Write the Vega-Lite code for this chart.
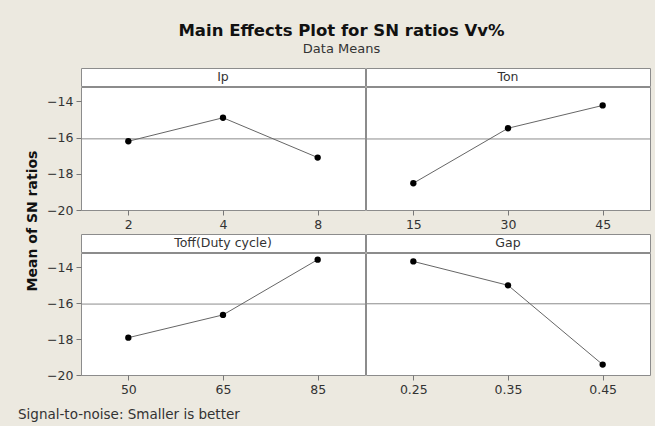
{
  "$schema": "https://vega.github.io/schema/vega-lite/v6.json",
  "background": "#ece9e0",
  "padding": {"left": 18, "top": 23, "right": 4, "bottom": 4},
  "datasets": {
    "effects": [
      {"factor": "Ip", "level": "2", "value": -16.2},
      {"factor": "Ip", "level": "4", "value": -14.9},
      {"factor": "Ip", "level": "8", "value": -17.1},
      {"factor": "Ton", "level": "15", "value": -18.52},
      {"factor": "Ton", "level": "30", "value": -15.48},
      {"factor": "Ton", "level": "45", "value": -14.22},
      {"factor": "Toff(Duty cycle)", "level": "50", "value": -17.92},
      {"factor": "Toff(Duty cycle)", "level": "65", "value": -16.65},
      {"factor": "Toff(Duty cycle)", "level": "85", "value": -13.57},
      {"factor": "Gap", "level": "0.25", "value": -13.67},
      {"factor": "Gap", "level": "0.35", "value": -15.0},
      {"factor": "Gap", "level": "0.45", "value": -19.42}
    ],
    "headers": [
      {"factor": "Ip"},
      {"factor": "Ton"},
      {"factor": "Toff(Duty cycle)"},
      {"factor": "Gap"}
    ]
  },
  "title": {
    "text": "Main Effects Plot for SN ratios Vv%",
    "subtitle": "Data Means",
    "anchor": "middle",
    "dx": 7,
    "fontSize": 16.5,
    "fontWeight": "bold",
    "font": "DejaVu Sans",
    "color": "#111",
    "subtitleFont": "DejaVu Sans",
    "subtitleFontSize": 13,
    "subtitleColor": "#333",
    "subtitlePadding": 3,
    "offset": 12
  },
  "vconcat": [
    {
      "title": {"text": "Signal-to-noise: Smaller is better", "orient": "bottom", "anchor": "start", "font": "DejaVu Sans", "fontSize": 13.5, "fontWeight": "normal", "color": "#333", "offset": 12},
      "spacing": -2,
      "hconcat": [
        {
          "width": 30,
          "height": 306,
          "view": {"stroke": null, "fill": null},
          "data": {"values": [{"label": "Mean of SN ratios"}]},
          "mark": {"type": "text", "angle": 270, "fontSize": 14, "fontWeight": "bold", "font": "DejaVu Sans", "color": "#111"},
          "encoding": {"text": {"field": "label"}}
        },
        {
          "spacing": 2,
          "vconcat": [
            {
              "spacing": -2,
              "hconcat": [
                {
                  "spacing": -2,
                  "vconcat": [
                    {
                      "width": 284, "height": 18,
                      "view": {"fill": "white", "stroke": "#8c8c8c"},
                      "data": {"name": "headers"},
                      "transform": [{"filter": {"field": "factor", "equal": "Ip"}}],
                      "mark": {"type": "text", "fontSize": 12.5, "color": "#333"},
                      "encoding": {"text": {"field": "factor"}}
                    },
                    {
                      "width": 284, "height": 123,
                      "view": {"fill": "white", "stroke": "#8c8c8c"},
                      "data": {"name": "effects"},
                      "transform": [{"filter": {"field": "factor", "equal": "Ip"}}],
                      "layer": [
                        {"mark": {"type": "rule", "color": "#8c8c8c"},
                         "encoding": {"y": {"aggregate": "mean", "field": "value", "type": "quantitative", "scale": {"domain": [-20, -13.2], "nice": false, "zero": false}, "axis": {"title": null, "values": [-20, -18, -16, -14]}}}},
                        {"mark": {"type": "line", "color": "#666", "strokeWidth": 1},
                         "encoding": {"x": {"field": "level", "type": "ordinal", "sort": null, "scale": {"type": "point", "padding": 0.5}, "axis": {"title": null, "labelAngle": 0}},
                                      "y": {"field": "value", "type": "quantitative"}}},
                        {"mark": {"type": "point", "filled": true, "color": "#000", "size": 40, "opacity": 1},
                         "encoding": {"x": {"field": "level", "type": "ordinal", "sort": null},
                                      "y": {"field": "value", "type": "quantitative"}}}
                      ]
                    }
                  ]
                },
                {
                  "spacing": -2,
                  "vconcat": [
                    {
                      "width": 284, "height": 18,
                      "view": {"fill": "white", "stroke": "#8c8c8c"},
                      "data": {"name": "headers"},
                      "transform": [{"filter": {"field": "factor", "equal": "Ton"}}],
                      "mark": {"type": "text", "fontSize": 12.5, "color": "#333"},
                      "encoding": {"text": {"field": "factor"}}
                    },
                    {
                      "width": 284, "height": 123,
                      "view": {"fill": "white", "stroke": "#8c8c8c"},
                      "data": {"name": "effects"},
                      "transform": [{"filter": {"field": "factor", "equal": "Ton"}}],
                      "layer": [
                        {"mark": {"type": "rule", "color": "#8c8c8c"},
                         "encoding": {"y": {"aggregate": "mean", "field": "value", "type": "quantitative", "scale": {"domain": [-20, -13.2], "nice": false, "zero": false}, "axis": null}}},
                        {"mark": {"type": "line", "color": "#666", "strokeWidth": 1},
                         "encoding": {"x": {"field": "level", "type": "ordinal", "sort": null, "scale": {"type": "point", "padding": 0.5}, "axis": {"title": null, "labelAngle": 0}},
                                      "y": {"field": "value", "type": "quantitative"}}},
                        {"mark": {"type": "point", "filled": true, "color": "#000", "size": 40, "opacity": 1},
                         "encoding": {"x": {"field": "level", "type": "ordinal", "sort": null},
                                      "y": {"field": "value", "type": "quantitative"}}}
                      ]
                    }
                  ]
                }
              ]
            },
            {
              "spacing": -2,
              "hconcat": [
                {
                  "spacing": -2,
                  "vconcat": [
                    {
                      "width": 284, "height": 18,
                      "view": {"fill": "white", "stroke": "#8c8c8c"},
                      "data": {"name": "headers"},
                      "transform": [{"filter": {"field": "factor", "equal": "Toff(Duty cycle)"}}],
                      "mark": {"type": "text", "fontSize": 12.5, "color": "#333"},
                      "encoding": {"text": {"field": "factor"}}
                    },
                    {
                      "width": 284, "height": 122,
                      "view": {"fill": "white", "stroke": "#8c8c8c"},
                      "data": {"name": "effects"},
                      "transform": [{"filter": {"field": "factor", "equal": "Toff(Duty cycle)"}}],
                      "layer": [
                        {"mark": {"type": "rule", "color": "#8c8c8c"},
                         "encoding": {"y": {"aggregate": "mean", "field": "value", "type": "quantitative", "scale": {"domain": [-20, -13.2], "nice": false, "zero": false}, "axis": {"title": null, "values": [-20, -18, -16, -14]}}}},
                        {"mark": {"type": "line", "color": "#666", "strokeWidth": 1},
                         "encoding": {"x": {"field": "level", "type": "ordinal", "sort": null, "scale": {"type": "point", "padding": 0.5}, "axis": {"title": null, "labelAngle": 0}},
                                      "y": {"field": "value", "type": "quantitative"}}},
                        {"mark": {"type": "point", "filled": true, "color": "#000", "size": 40, "opacity": 1},
                         "encoding": {"x": {"field": "level", "type": "ordinal", "sort": null},
                                      "y": {"field": "value", "type": "quantitative"}}}
                      ]
                    }
                  ]
                },
                {
                  "spacing": -2,
                  "vconcat": [
                    {
                      "width": 284, "height": 18,
                      "view": {"fill": "white", "stroke": "#8c8c8c"},
                      "data": {"name": "headers"},
                      "transform": [{"filter": {"field": "factor", "equal": "Gap"}}],
                      "mark": {"type": "text", "fontSize": 12.5, "color": "#333"},
                      "encoding": {"text": {"field": "factor"}}
                    },
                    {
                      "width": 284, "height": 122,
                      "view": {"fill": "white", "stroke": "#8c8c8c"},
                      "data": {"name": "effects"},
                      "transform": [{"filter": {"field": "factor", "equal": "Gap"}}],
                      "layer": [
                        {"mark": {"type": "rule", "color": "#8c8c8c"},
                         "encoding": {"y": {"aggregate": "mean", "field": "value", "type": "quantitative", "scale": {"domain": [-20, -13.2], "nice": false, "zero": false}, "axis": null}}},
                        {"mark": {"type": "line", "color": "#666", "strokeWidth": 1},
                         "encoding": {"x": {"field": "level", "type": "ordinal", "sort": null, "scale": {"type": "point", "padding": 0.5}, "axis": {"title": null, "labelAngle": 0}},
                                      "y": {"field": "value", "type": "quantitative"}}},
                        {"mark": {"type": "point", "filled": true, "color": "#000", "size": 40, "opacity": 1},
                         "encoding": {"x": {"field": "level", "type": "ordinal", "sort": null},
                                      "y": {"field": "value", "type": "quantitative"}}}
                      ]
                    }
                  ]
                }
              ]
            }
          ]
        }
      ]
    }
  ],
  "config": {
    "font": "DejaVu Sans",
    "view": {"stroke": "#8c8c8c"},
    "axis": {"domain": false, "grid": false, "ticks": true, "tickColor": "#777", "tickSize": 5, "labelColor": "#333", "labelFontSize": 12.5, "labelPadding": 3, "labelFont": "DejaVu Sans"}
  }
}
